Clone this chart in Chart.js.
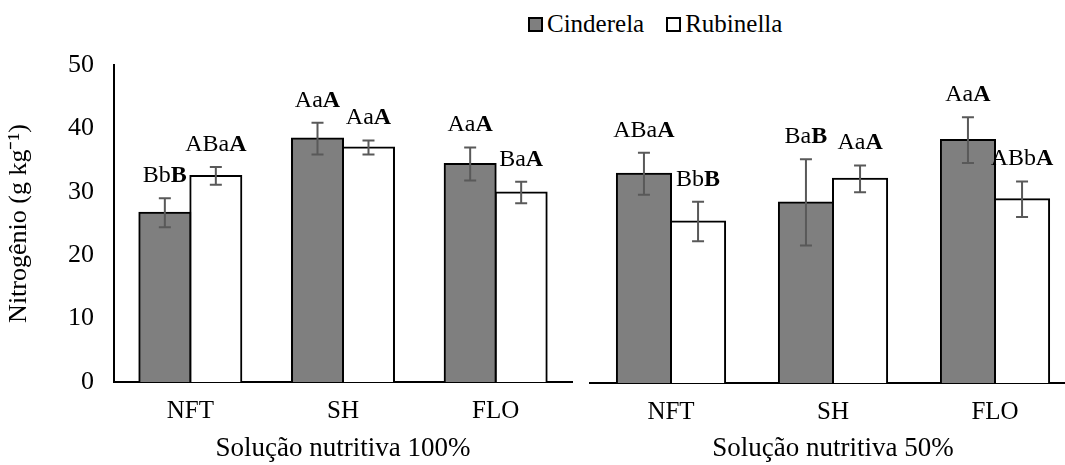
<!DOCTYPE html>
<html>
<head>
<meta charset="utf-8">
<script src="https://cdn.jsdelivr.net/npm/chart.js@4"></script>
<style>
  html, body { margin: 0; padding: 0; background: #fff; overflow: hidden; }
  #wrap { position: relative; width: 1065px; height: 465px; overflow: hidden; }
  #box100 { position: absolute; left: 0; top: 0; width: 580px; height: 465px; }
  #box50 { position: absolute; left: 580px; top: 0; width: 500px; height: 465px; }
  #legend { position: absolute; left: 528px; top: 10px; font: 25px "Liberation Serif", "Times New Roman", serif; color: #000; display: flex; align-items: center; white-space: nowrap; }
  #legend .sw { display: inline-block; width: 11px; height: 11px; border: 2px solid #000; margin-right: 4px; }
  #legend .item { display: flex; align-items: center; margin-right: 22px; }
</style>
</head>
<body>
<div id="wrap">
  <div id="legend">
    <span class="item"><span class="sw" style="background:#7f7f7f"></span>Cinderela</span>
    <span class="item"><span class="sw" style="background:#fff"></span>Rubinella</span>
  </div>
  <div id="box100"><canvas id="chart100"></canvas></div>
  <div id="box50"><canvas id="chart50"></canvas></div>
</div>
<script>
// Teor de nitrogênio por sistema de cultivo
var categorias = ["NFT", "SH", "FLO"];
var ticksY = [0, 10, 20, 30, 40, 50];

// Solução nutritiva 100%
var cinderela100 = [26.7, 38.4, 34.4];
var cindErro100 = [2.3, 2.5, 2.6];
var rubinella100 = [32.5, 37.0, 29.9];
var rubErro100 = [1.4, 1.1, 1.7];
var cindLetras100 = [["Bb", "B"], ["Aa", "A"], ["Aa", "A"]];
var rubLetras100 = [["ABa", "A"], ["Aa", "A"], ["Ba", "A"]];

// Solução nutritiva 50%
var cinderela50 = [32.9, 28.4, 38.2];
var cindErro50 = [3.3, 6.8, 3.6];
var rubinella50 = [25.4, 32.1, 28.9];
var rubErro50 = [3.1, 2.1, 2.8];
var cindLetras50 = [["ABa", "A"], ["Ba", "B"], ["Aa", "A"]];
var rubLetras50 = [["Bb", "B"], ["Aa", "A"], ["ABb", "A"]];

var serif = '"Liberation Serif", "Times New Roman", serif';

// barras de erro + letras (a última letra em negrito)
var barrasErro = {
  id: 'barrasErro',
  afterDatasetsDraw: function (chart) {
    var ctx = chart.ctx;
    var y = chart.scales.y;
    chart.data.datasets.forEach(function (ds, i) {
      var meta = chart.getDatasetMeta(i);
      meta.data.forEach(function (bar, j) {
        var v = ds.data[j], e = ds.erros[j];
        var yTop = y.getPixelForValue(v + e);
        var yBot = y.getPixelForValue(v - e);
        ctx.save();
        ctx.strokeStyle = '#595959';
        ctx.lineWidth = 2;
        ctx.beginPath();
        ctx.moveTo(bar.x, yTop); ctx.lineTo(bar.x, yBot);
        ctx.moveTo(bar.x - 6, yTop); ctx.lineTo(bar.x + 6, yTop);
        ctx.moveTo(bar.x - 6, yBot); ctx.lineTo(bar.x + 6, yBot);
        ctx.stroke();

        var partes = ds.letras[j];
        var fN = '24px ' + serif, fB = 'bold 24px ' + serif;
        ctx.font = fN; var w1 = ctx.measureText(partes[0]).width;
        ctx.font = fB; var w2 = ctx.measureText(partes[1]).width;
        var x0 = bar.x - (w1 + w2) / 2;
        var base = yTop - 16;
        ctx.fillStyle = '#000';
        ctx.textBaseline = 'alphabetic';
        ctx.textAlign = 'left';
        ctx.font = fN; ctx.fillText(partes[0], x0, base);
        ctx.font = fB; ctx.fillText(partes[1], x0 + w1, base);
        ctx.restore();
      });
    });
  }
};

function montaGrafico(id, cind, cindErr, cindLet, rub, rubErr, rubLet, titulo, mostraY, padding, alturaX) {
  var ctx = document.getElementById(id).getContext('2d');
  return new Chart(ctx, {
    type: 'bar',
    data: {
      labels: categorias,
      datasets: [{
        label: 'Cinderela',
        data: cind,
        erros: cindErr,
        letras: cindLet,
        backgroundColor: '#7f7f7f',
        borderColor: '#000',
        borderWidth: 2,
        inflateAmount: 1,
        barPercentage: 1,
        categoryPercentage: 0.668
      }, {
        label: 'Rubinella',
        data: rub,
        erros: rubErr,
        letras: rubLet,
        backgroundColor: '#ffffff',
        borderColor: '#000',
        borderWidth: 2,
        inflateAmount: 1,
        barPercentage: 1,
        categoryPercentage: 0.668
      }]
    },
    options: {
      responsive: true,
      maintainAspectRatio: false,
      animation: false,
      layout: { padding: padding },
      plugins: {
        legend: { display: false },
        tooltip: { enabled: false }
      },
      scales: {
        x: {
          grid: { display: false, drawTicks: false },
          border: { display: true, color: '#000', width: 2 },
          ticks: { color: '#000', font: { family: serif, size: 25 }, padding: 14 },
          title: { display: true, text: titulo, color: '#000', font: { family: serif, size: 27 }, padding: { top: 0, bottom: 0 } },
          afterFit: function (s) { s.height = alturaX; }
        },
        y: {
          display: mostraY,
          min: 0,
          max: 50,
          afterBuildTicks: function (s) { s.ticks = ticksY.map(function (v) { return { value: v }; }); },
          grid: { display: false, drawTicks: false },
          border: { display: true, color: '#000', width: 2 },
          ticks: { color: '#000', font: { family: serif, size: 26 }, padding: 20 },
          title: { display: true, text: 'Nitrogênio (g kg⁻¹)', color: '#000', font: { family: serif, size: 26 }, padding: 4 },
          afterFit: function (s) { s.width = mostraY ? 114 : 0; }
        }
      }
    },
    plugins: [barrasErro]
  });
}

montaGrafico('chart100', cinderela100, cindErro100, cindLetras100, rubinella100, rubErro100, rubLetras100,
  'Solução nutritiva 100%', true, { top: 65, left: 0, right: 8, bottom: 0 }, 83);
montaGrafico('chart50', cinderela50, cindErro50, cindLetras50, rubinella50, rubErro50, rubLetras50,
  'Solução nutritiva 50%', false, { top: 65, left: 10, right: 4, bottom: 0 }, 82);
</script>
</body>
</html>
